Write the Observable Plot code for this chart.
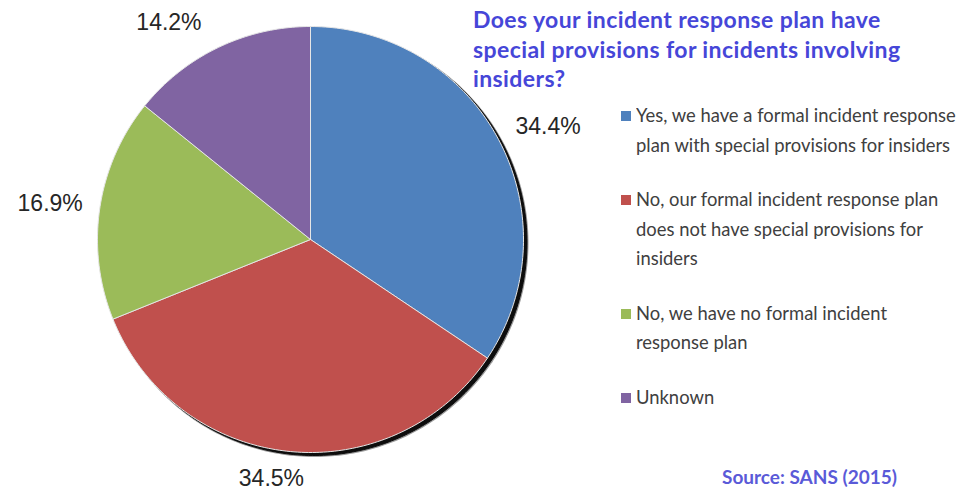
<!DOCTYPE html>
<html>
<head>
<meta charset="utf-8">
<script src="https://cdn.jsdelivr.net/npm/d3@7"></script>
<script src="https://cdn.jsdelivr.net/npm/@observablehq/plot@0.6"></script>
<style>
  html, body { margin: 0; padding: 0; background: #fff; }
  #wrap { position: relative; width: 966px; height: 492px; overflow: hidden; background: #fff; }
  #chart { position: absolute; left: 0; top: 0; }
  #title { position: absolute; left: 473px; top: 5px; width: 493px; white-space: nowrap;
    font-family: Lato, "Open Sans", sans-serif; font-weight: 700; font-size: 23px; letter-spacing: 0.4px;
    line-height: 29.5px; color: #4646d8; }
  #legend { position: absolute; left: 621px; top: 100px; width: 345px;
    font-family: Lato, "Open Sans", sans-serif; font-size: 20px; color: #404040; }
  .item { position: relative; padding-left: 15px; line-height: 29.5px; margin-bottom: 25px; white-space: nowrap; }
  .item .sw { position: absolute; left: 0; top: 11px; width: 10px; height: 10px; }
  .item .t { transform: scaleX(0.92); transform-origin: 0 0; }
  #source { position: absolute; left: 722px; top: 465px; white-space: nowrap;
    font-family: Lato, "Open Sans", sans-serif; font-weight: 700; font-size: 19px; color: #5a5ad8; }
</style>
</head>
<body>
<div id="wrap">
  <div id="chart"></div>
  <div id="title"></div>
  <div id="legend"></div>
  <div id="source"></div>
</div>
<script>
const categories = [
  "Yes, we have a formal incident response plan with special provisions for insiders",
  "No, our formal incident response plan does not have special provisions for insiders",
  "No, we have no formal incident response plan",
  "Unknown"
];
const legendLines = [
  ["Yes, we have a formal incident response", "plan with special provisions for insiders"],
  ["No, our formal incident response plan", "does not have special provisions for", "insiders"],
  ["No, we have no formal incident", "response plan"],
  ["Unknown"]
];
const values = [34.4, 34.5, 16.9, 14.2];
const valueLabels = ["34.4%", "34.5%", "16.9%", "14.2%"];
const colors = ["#4F81BD", "#C0504D", "#9BBB59", "#8064A2"];
const titleLines = ["Does your incident response plan have", "special provisions for incidents involving", "insiders?"];
const sourceText = "Source: SANS (2015)";

// Build slice polygons (unit circle, clockwise from 12 o'clock)
const total = d3.sum(values);
const arcs = [];
const labelPts = [];
let acc = 0;
values.forEach((v, i) => {
  const a0 = acc / total * 2 * Math.PI;
  acc += v;
  const a1 = acc / total * 2 * Math.PI;
  const n = Math.max(2, Math.ceil((a1 - a0) / (Math.PI / 180)));
  arcs.push({cat: categories[i], x: 0, y: 0});
  for (let k = 0; k <= n; k++) {
    const a = a0 + (a1 - a0) * k / n;
    arcs.push({cat: categories[i], x: Math.sin(a), y: Math.cos(a)});
  }
  arcs.push({cat: categories[i], x: 0, y: 0});
  const am = (a0 + a1) / 2;
  const s = Math.sin(am), c = Math.cos(am);
  labelPts.push({
    label: valueLabels[i],
    x: s + Math.sign(s) * 0.08,
    y: 1.13 * c,
    anchor: s > 0.3 ? "start" : (s < -0.3 ? "end" : "middle")
  });
});

const textOpts = {
  x: "x", y: "y", text: "label",
  fontSize: 23, fill: "#262626",
  fontFamily: "Liberation Sans, Arial, sans-serif"
};

const plot = Plot.plot({
  width: 966,
  height: 492,
  margin: 0,
  x: {domain: [-1, 1], range: [97, 523], axis: null},
  y: {domain: [-1, 1], range: [452, 26], axis: null},
  color: {domain: categories, range: colors},
  style: {background: "transparent", overflow: "visible"},
  marks: [
    Plot.line(arcs, {x: "x", y: "y", z: "cat", fill: "#9a9a9a", stroke: "#9a9a9a", strokeWidth: 2, dx: 4, dy: 3.5, curve: "linear"}),
    Plot.line(arcs, {x: "x", y: "y", z: "cat", fill: "#0d0d0d", stroke: "#0d0d0d", strokeWidth: 1, dx: 3.5, dy: 3, curve: "linear"}),
    Plot.line(arcs, {x: "x", y: "y", z: "cat", fill: "cat", stroke: "#e6e6e6", strokeWidth: 1, curve: "linear", strokeLinejoin: "round"}),
    Plot.text(labelPts.filter(d => d.anchor === "start"), {...textOpts, textAnchor: "start"}),
    Plot.text(labelPts.filter(d => d.anchor === "end"), {...textOpts, textAnchor: "end"}),
    Plot.text(labelPts.filter(d => d.anchor === "middle"), {...textOpts, textAnchor: "middle"})
  ]
});
document.getElementById("chart").appendChild(plot);

document.getElementById("title").innerHTML = titleLines.join("<br>");
document.getElementById("source").textContent = sourceText;

const legend = document.getElementById("legend");
categories.forEach((c, i) => {
  const item = document.createElement("div");
  item.className = "item";
  const sw = document.createElement("div");
  sw.className = "sw";
  sw.style.background = colors[i];
  item.appendChild(sw);
  const t = document.createElement("div");
  t.className = "t";
  t.innerHTML = legendLines[i].join("<br>");
  item.appendChild(t);
  legend.appendChild(item);
});
</script>
</body>
</html>
